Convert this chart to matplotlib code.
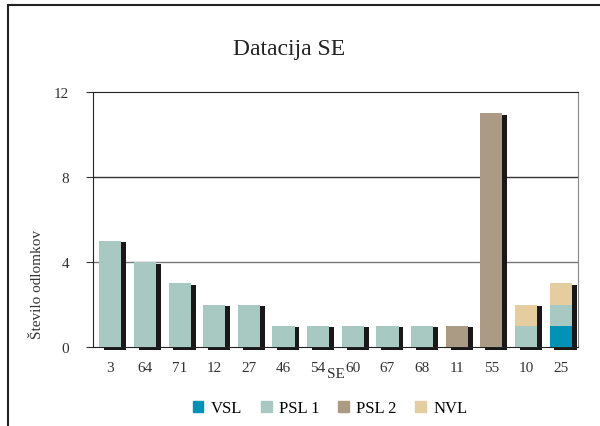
import matplotlib.pyplot as plt
from matplotlib.patches import Rectangle, Patch
import numpy as np

plt.rcParams['font.family'] = ['Liberation Serif', 'DejaVu Serif']

categories = ["3", "64", "71", "12", "27", "46", "54", "60", "67", "68", "11", "55", "10", "25"]
vsl = [0, 0, 0, 0, 0, 0, 0, 0, 0, 0, 0, 0, 0, 1]
psl1 = [5, 4, 3, 2, 2, 1, 1, 1, 1, 1, 0, 0, 1, 1]
psl2 = [0, 0, 0, 0, 0, 0, 0, 0, 0, 0, 1, 11, 0, 0]
nvl = [0, 0, 0, 0, 0, 0, 0, 0, 0, 0, 0, 0, 1, 1]

colors = {"VSL": "#0093b6", "PSL 1": "#a7c9c2", "PSL 2": "#ab9b85", "NVL": "#e6cda0"}

fig = plt.figure(figsize=(6, 4.27), dpi=100)
ax = fig.add_axes([93 / 600, 1 - 348 / 427, 485 / 600, 255 / 427])

x = np.arange(len(categories))
w = 0.64
series = [("VSL", vsl), ("PSL 1", psl1), ("PSL 2", psl2), ("NVL", nvl)]
totals = np.sum([s for _, s in series], axis=0)

# black shadow behind each stack
ax.bar(x + 0.14, totals + 0.08, w, bottom=-0.16, color="#1a1718", zorder=2, clip_on=False)

bottom = np.zeros(len(categories))
for name, vals in series:
    vals = np.array(vals)
    ax.bar(x, vals, w, bottom=bottom, color=colors[name], zorder=3)
    bottom += vals

ax.set_xlim(-0.5, len(categories) - 0.5)
ax.set_ylim(0, 12)
ax.set_yticks([0, 4, 8, 12])
ax.set_xticks(x)
ax.set_xticklabels(categories)
for yv, c in [(4, "#777777"), (8, "#333333")]:
    ax.axhline(yv, color=c, lw=1, zorder=1)

ax.tick_params(axis="x", length=0, pad=10, labelsize=11, colors="#333333")
ax.tick_params(axis="y", length=5, pad=12, labelsize=11, colors="#333333", direction="out")
for s in ["left", "bottom", "top"]:
    ax.spines[s].set_color("#222222")
ax.spines["right"].set_color("#888888")

ax.set_xlabel("SE", fontsize=11, color="#333333")
ax.xaxis.set_label_coords(0.5, -20 / 255)
ax.set_ylabel("Število odlomkov", fontsize=11, color="#333333")
ax.yaxis.set_label_coords(-49 / 485, 0.25)
fig.text(289 / 600, 1 - 50 / 427, "Datacija SE", ha="center", va="center", fontsize=17, color="#222222")

handles = [Patch(color=colors[n]) for n, _ in series]
fig.legend(handles, [n for n, _ in series], loc="center", bbox_to_anchor=(330 / 600, 1 - 409 / 427),
           ncol=4, frameon=False, fontsize=12, handlelength=0.65, handleheight=0.65,
           columnspacing=1.1, handletextpad=0.45)

fig.patches.append(Rectangle((8 / 600, -0.1), 1.1, 1.1 - 6 / 427, transform=fig.transFigure,
                             fill=False, edgecolor="#222222", lw=1.5))

fig.savefig("out.png", dpi=100)
